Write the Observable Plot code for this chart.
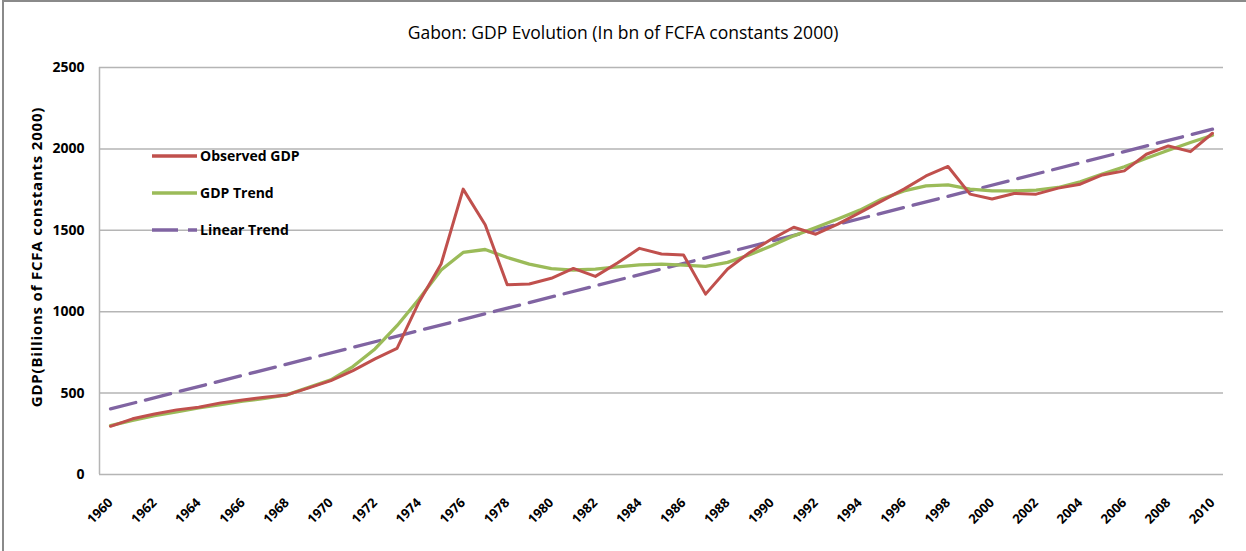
<!DOCTYPE html>
<html>
<head>
<meta charset="utf-8">
<script src="https://cdn.jsdelivr.net/npm/d3@7"></script>
<script src="https://cdn.jsdelivr.net/npm/@observablehq/plot@0.6"></script>
<style>
  html, body { margin: 0; padding: 0; background: #fff; }
  #wrap { position: relative; width: 1246px; height: 551px; overflow: hidden; font-family: "Open Sans", "Lato", sans-serif; }
  #frame { position: absolute; left: 2px; top: 0; width: 1246px; height: 560px; border-top: 2px solid #8a8a8a; border-left: 2px solid #8a8a8a; box-sizing: border-box; pointer-events: none; }
  #title { position: absolute; left: 0; width: 1246px; top: 20px; text-align: center; font-size: 17.5px; color: #000; }
  #ylabel { position: absolute; left: 36px; top: 257px; transform: translate(-50%, -50%) rotate(-90deg); white-space: nowrap; font-weight: bold; font-size: 15px; letter-spacing: 0.8px; color: #000; }
  #legend { position: absolute; left: 150px; top: 137px; }
  #legend .row { display: flex; align-items: center; height: 37px; font-weight: bold; font-size: 14px; }
  #legend svg { margin-right: 3px; }
  #chart { position: absolute; left: 0; top: 0; width: 1246px; height: 551px; }
</style>
</head>
<body>
<div id="wrap">
  <div id="chart"></div>
  <div id="title">Gabon: GDP Evolution (In bn of FCFA constants 2000)</div>
  <div id="ylabel">GDP(Billions of FCFA constants 2000)</div>
  <div id="legend"></div>
  <div id="frame"></div>
</div>
<script>
const years = [1960,1961,1962,1963,1964,1965,1966,1967,1968,1969,1970,1971,1972,1973,1974,1975,1976,1977,1978,1979,1980,1981,1982,1983,1984,1985,1986,1987,1988,1989,1990,1991,1992,1993,1994,1995,1996,1997,1998,1999,2000,2001,2002,2003,2004,2005,2006,2007,2008,2009,2010];

const observedGDP = [296,342,372,397,413,440,458,474,489,532,577,638,710,775,1060,1293,1753,1534,1166,1170,1205,1266,1217,1299,1389,1354,1348,1108,1262,1364,1446,1519,1476,1538,1609,1681,1753,1834,1892,1722,1692,1726,1722,1759,1783,1840,1865,1967,2018,1983,2096];

const gdpTrend = [300,332,362,384,409,429,450,468,489,536,581,663,771,914,1078,1256,1364,1382,1333,1292,1264,1256,1262,1276,1288,1292,1286,1278,1303,1350,1405,1466,1517,1569,1624,1692,1742,1773,1779,1753,1742,1742,1747,1763,1798,1845,1890,1943,1992,2039,2084];

const linearTrendYears = [1960, 2010];
const linearTrendValues = [403, 2121];

const xTickYears = [1960,1962,1964,1966,1968,1970,1972,1974,1976,1978,1980,1982,1984,1986,1988,1990,1992,1994,1996,1998,2000,2002,2004,2006,2008,2010];
const yTicks = [0, 500, 1000, 1500, 2000, 2500];

const seriesNames = ["Observed GDP", "GDP Trend", "Linear Trend"];
const seriesColors = ["#C0504D", "#9BBB59", "#8064A2"];
const seriesDash = [null, null, "26,10"];

const observed = years.map((y, i) => ({year: y, value: observedGDP[i]}));
const trend = years.map((y, i) => ({year: y, value: gdpTrend[i]}));
const linear = linearTrendYears.map((y, i) => ({year: y, value: linearTrendValues[i]}));

const chart = Plot.plot({
  width: 1246,
  height: 551,
  marginTop: 67,
  marginBottom: 77,
  marginLeft: 99,
  marginRight: 23,
  style: {fontFamily: '"Open Sans", "Lato", sans-serif', background: "transparent", color: "#000"},
  x: {type: "linear", domain: [years[0] - 0.5, years[years.length - 1] + 0.5]},
  y: {domain: [0, 2500]},
  marks: [
    Plot.ruleY(yTicks, {stroke: "#b5b5b5", strokeWidth: 1.5}),
    Plot.ruleX([years[0] - 0.5], {stroke: "#b5b5b5", strokeWidth: 1.5}),
    Plot.line(linear, {x: "year", y: "value", stroke: seriesColors[2], strokeWidth: 3.3, strokeDasharray: seriesDash[2]}),
    Plot.line(trend, {x: "year", y: "value", stroke: seriesColors[1], strokeWidth: 3.3}),
    Plot.line(observed, {x: "year", y: "value", stroke: seriesColors[0], strokeWidth: 3}),
    Plot.axisY(yTicks, {tickSize: 0, tickPadding: 15, fontSize: 14, fontWeight: "bold", tickFormat: d => String(d), label: null}),
    Plot.axisX(xTickYears, {tickSize: 0, tickPadding: 26, tickRotate: -45, fontSize: 13, fontWeight: "bold", tickFormat: d => String(d), label: null})
  ]
});
document.getElementById("chart").appendChild(chart);

// legend
const legend = document.getElementById("legend");
seriesNames.forEach((name, i) => {
  const row = document.createElement("div");
  row.className = "row";
  const dash = seriesDash[i] ? `stroke-dasharray="${seriesDash[i]}"` : "";
  row.innerHTML = `<svg width="47" height="10"><line x1="2" y1="5" x2="47" y2="5" stroke="${seriesColors[i]}" stroke-width="3.3" ${dash}/></svg><span>${name}</span>`;
  legend.appendChild(row);
});
</script>
</body>
</html>
